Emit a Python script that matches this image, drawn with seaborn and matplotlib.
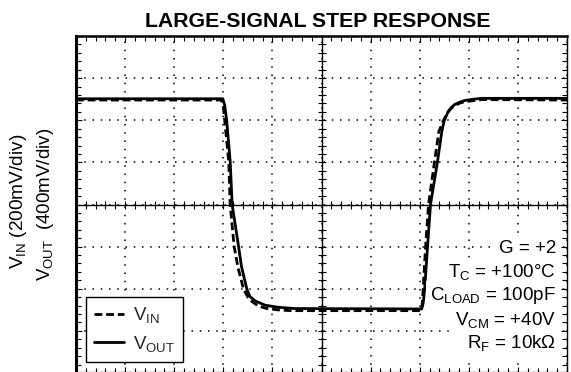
import numpy as np
import pandas as pd
import matplotlib
matplotlib.use("Agg")
import matplotlib.pyplot as plt
from matplotlib.ticker import MultipleLocator
import seaborn as sns

# Scope trace: time in horizontal divisions, amplitudes in volts
vin_time = [0, 2.96, 3.00, 3.03, 3.11, 3.14, 3.22, 3.30, 3.41, 3.50, 3.58, 3.70, 3.85, 4.10, 4.36,
            7.02, 7.05, 7.07, 7.12, 7.18, 7.30, 7.39, 7.48, 7.58, 7.65, 7.72, 7.82, 7.92, 8.26, 10]
vin_volts = [0.496, 0.496, 0.464, 0.396, 0.206, 0.0, -0.198, -0.300, -0.400, -0.440, -0.460,
             -0.480, -0.492, -0.500, -0.504,
             -0.504, -0.476, -0.404, -0.198, 0.0, 0.200, 0.346, 0.398, 0.440, 0.458, 0.470,
             0.482, 0.488, 0.498, 0.496]

vout_time = [0, 2.99, 3.03, 3.07, 3.14, 3.18, 3.31, 3.37, 3.48, 3.54, 3.65, 3.85, 4.12, 4.46,
             7.04, 7.07, 7.10, 7.16, 7.22, 7.36, 7.45, 7.50, 7.58, 7.65, 7.72, 7.82, 7.92, 8.10,
             8.26, 10]
vout_volts = [1.004, 1.004, 0.940, 0.792, 0.412, 0.0, -0.396, -0.588, -0.804, -0.872, -0.916,
              -0.956, -0.976, -0.988,
              -0.992, -0.940, -0.808, -0.396, 0.0, 0.400, 0.692, 0.796, 0.884, 0.924, 0.952,
              0.972, 0.988, 1.000, 1.008, 1.008]

vin_scale = 0.2    # V/div
vout_scale = 0.4   # V/div

conditions = ["G = +2",
              "T$_{C}$ = +100°C",
              "C$_{LOAD}$ = 100pF",
              "V$_{CM}$ = +40V",
              "R$_{F}$ = 10kΩ"]

sns.set_style("white")
plt.rcParams["font.family"] = ["Liberation Sans", "DejaVu Sans"]
plt.rcParams["mathtext.fontset"] = "custom"
plt.rcParams["mathtext.rm"] = "Liberation Sans"
plt.rcParams["mathtext.it"] = "Liberation Sans:italic"
plt.rcParams["mathtext.bf"] = "Liberation Sans:bold"
plt.rcParams["mathtext.default"] = "regular"

W, H = 571, 372
fig = plt.figure(figsize=(W / 100, H / 100), dpi=100)

x0, x1 = 76, 567
y0, y1 = 36, 373
pos = [x0 / W, 1 - y1 / H, (x1 - x0) / W, (y1 - y0) / H]

# Center cross with graticule ticks
axc = fig.add_axes(pos)
axc.set_xlim(0, 10)
axc.set_ylim(-4, 4)
for s in ["top", "right"]:
    axc.spines[s].set_visible(False)
axc.spines["left"].set_position(("data", 5))
axc.spines["bottom"].set_position(("data", 0))
for s in ["left", "bottom"]:
    axc.spines[s].set_color("black")
    axc.spines[s].set_linewidth(1.0)
axc.xaxis.set_major_locator(MultipleLocator(1))
axc.xaxis.set_minor_locator(MultipleLocator(0.2))
axc.yaxis.set_major_locator(MultipleLocator(1))
axc.yaxis.set_minor_locator(MultipleLocator(0.2))
axc.tick_params(which="both", direction="inout", length=5.5, width=0.8, color="black",
                labelbottom=False, labelleft=False, bottom=True, left=True)

# Main graticule frame and traces
ax = fig.add_axes(pos)
ax.set_facecolor("none")
ax.set_xlim(0, 10)
ax.set_ylim(-4, 4)
ax.xaxis.set_major_locator(MultipleLocator(1))
ax.xaxis.set_minor_locator(MultipleLocator(0.2))
ax.yaxis.set_major_locator(MultipleLocator(1))
ax.yaxis.set_minor_locator(MultipleLocator(0.2))
ax.tick_params(which="both", direction="in", top=True, right=True, bottom=True, left=True,
               labelbottom=False, labelleft=False, color="black", width=0.8)
ax.tick_params(which="major", length=4.5)
ax.tick_params(which="minor", length=3.5)
ax.grid(True, which="major", color="black", linestyle=(0, (1, 4.4)), linewidth=1.1)
for s, lw in [("left", 2.2), ("top", 1.8), ("right", 1.0), ("bottom", 1.6)]:
    ax.spines[s].set_visible(True)
    ax.spines[s].set_color("black")
    ax.spines[s].set_linewidth(lw)

df_in = pd.DataFrame({"t": vin_time, "div": np.array(vin_volts) / vin_scale})
df_out = pd.DataFrame({"t": vout_time, "div": np.array(vout_volts) / vout_scale})

sns.lineplot(data=df_in, x="t", y="div", ax=ax, color="black", linewidth=2.0,
             linestyle=(0, (2.8, 1.4)), estimator=None, sort=False,
             label="V$_{IN}$", zorder=3)
sns.lineplot(data=df_out, x="t", y="div", ax=ax, color="black", linewidth=2.0,
             estimator=None, sort=False, label="V$_{OUT}$", zorder=4)
ax.set_xlabel("")
ax.set_ylabel("")

leg = ax.legend(loc="lower left", bbox_to_anchor=(0.0204, 0.0326), borderaxespad=0,
                frameon=True, fancybox=False, edgecolor="black", framealpha=1,
                handlelength=1.6, handletextpad=0.45, labelspacing=0.45,
                borderpad=0.45, fontsize=13.5)
leg.get_frame().set_linewidth(1.0)

cond_y = [0.357, 0.2858, 0.2166, 0.1424, 0.0742]
for txt, yy in zip(conditions, cond_y):
    ax.text(0.9776, yy, txt, transform=ax.transAxes, ha="right", va="baseline",
            fontsize=13.5, color="black", zorder=5,
            bbox=dict(boxstyle="square,pad=0.22", facecolor="white", edgecolor="none"))

fig.text(318 / W, 1 - 27 / H, "LARGE-SIGNAL STEP RESPONSE", ha="center", va="baseline",
         fontsize=15.3, fontweight="bold", color="black")

fig.text(23 / W, 1 - 201.5 / H, "V$_{IN}$ (200mV/div)", rotation=90, ha="center",
         va="baseline", fontsize=13.7, color="black", rotation_mode="anchor")
fig.text(50 / W, 1 - 204.5 / H, "V$_{OUT}$  (400mV/div)", rotation=90, ha="center",
         va="baseline", fontsize=13.5, color="black", rotation_mode="anchor")

fig.savefig("out.png", dpi=100)
